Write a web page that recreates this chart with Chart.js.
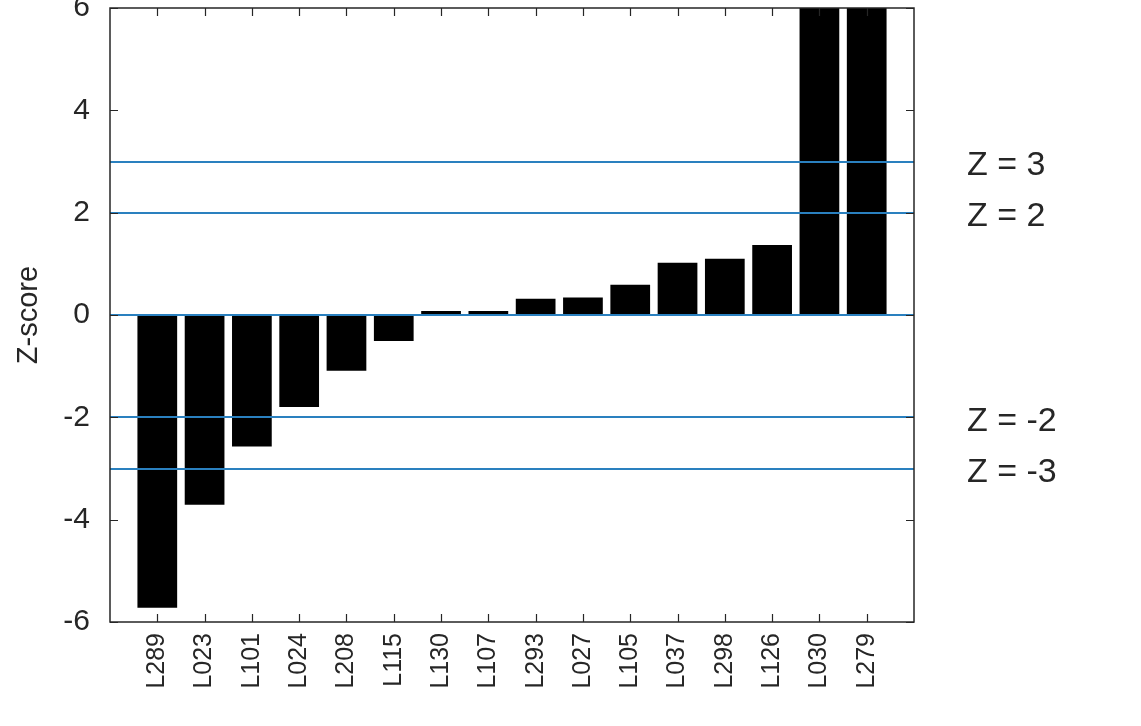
<!DOCTYPE html>
<html>
<head>
<meta charset="utf-8">
<script src="https://cdn.jsdelivr.net/npm/chart.js@4/dist/chart.umd.min.js"></script>
<style>
  html, body { margin: 0; padding: 0; background: #fff; }
  #wrap { width: 1141px; height: 726px; }
</style>
</head>
<body>
<div id="wrap"><canvas id="chart"></canvas></div>
<script>
// categories (sorted by z-score)
var categories = ['L289', 'L023', 'L101', 'L024', 'L208', 'L115', 'L130', 'L107',
                  'L293', 'L027', 'L105', 'L037', 'L298', 'L126', 'L030', 'L279'];
// z-score per category (last two run off the top of the axis)
var zScores = [-5.72, -3.71, -2.57, -1.80, -1.09, -0.51, 0.08, 0.08,
               0.32, 0.34, 0.59, 1.02, 1.10, 1.37, 7.5, 7.8];
// reference lines and their labels
var refLines = [0, 2, 3, -2, -3];
var refLabelValues = [3, 2, -2, -3];
var refLabelTexts = ['Z = 3', 'Z = 2', 'Z = -2', 'Z = -3'];
// y axis
var yMin = -6, yMax = 6, yStep = 2;

var INK = '#262626';
var LINE_BLUE = '#2a80bf';
var FONT = '"Liberation Sans", Arial, Helvetica, sans-serif';

// empty slots at both ends so the axis runs one full step past the first / last bar
var labels = [''].concat(categories).concat(['']);
var values = [null].concat(zScores).concat([null]);

/* frame, inward ticks, z lines and their labels */
var framePlugin = {
    id: 'frame',
    afterDatasetsDraw: function (chart) {
        var ctx = chart.ctx;
        var a = chart.chartArea;
        var x = chart.scales.x;
        var y = chart.scales.y;
        ctx.save();

        // z lines
        ctx.strokeStyle = LINE_BLUE;
        ctx.lineWidth = 2;
        refLines.forEach(function (v) {
            var py = Math.round(y.getPixelForValue(v));
            ctx.beginPath();
            ctx.moveTo(a.left, py);
            ctx.lineTo(a.right, py);
            ctx.stroke();
        });

        // box
        ctx.strokeStyle = INK;
        ctx.lineWidth = 1.5;
        ctx.strokeRect(a.left, a.top, a.right - a.left, a.bottom - a.top);

        // ticks
        ctx.lineWidth = 1.2;
        ctx.beginPath();
        labels.forEach(function (l, i) {
            if (!l) return;
            var px = Math.round(x.getPixelForValue(i)) + 0.5;
            ctx.moveTo(px, a.bottom);
            ctx.lineTo(px, a.bottom - 8);
            ctx.moveTo(px, a.top);
            ctx.lineTo(px, a.top + 8);
        });
        y.ticks.forEach(function (t) {
            var py = Math.round(y.getPixelForValue(t.value)) + 0.5;
            ctx.moveTo(a.left, py);
            ctx.lineTo(a.left + 8, py);
            ctx.moveTo(a.right, py);
            ctx.lineTo(a.right - 8, py);
        });
        ctx.stroke();

        // labels to the right
        ctx.fillStyle = INK;
        ctx.font = '34px ' + FONT;
        ctx.textAlign = 'left';
        ctx.textBaseline = 'middle';
        refLabelValues.forEach(function (v, i) {
            var py = y.getPixelForValue(v) + 4;
            ctx.fillText(refLabelTexts[i], a.right + 53, py);
        });

        ctx.restore();
    }
};

new Chart(document.getElementById('chart'), {
    type: 'bar',
    data: {
        labels: labels,
        datasets: [{
            label: 'Z-score',
            data: values,
            backgroundColor: '#000000',
            borderWidth: 0,
            categoryPercentage: 1.0,
            barPercentage: 0.84
        }]
    },
    options: {
        responsive: true,
        maintainAspectRatio: false,
        animation: false,
        layout: { padding: { top: 8, right: 227, bottom: 0, left: 0 } },
        plugins: {
            legend: { display: false },
            tooltip: { enabled: false }
        },
        scales: {
            x: {
                type: 'category',
                offset: false,
                grid: { display: false, drawTicks: false },
                border: { display: false },
                ticks: {
                    autoSkip: false,
                    minRotation: 90,
                    maxRotation: 90,
                    padding: 11,
                    color: INK,
                    font: { family: FONT, size: 25 },
                    callback: function (v, i) { return labels[i]; }
                },
                afterFit: function (scale) {
                    scale.height = 104;
                    scale.paddingLeft = 0;
                    scale.paddingRight = 0;
                }
            },
            y: {
                min: yMin,
                max: yMax,
                grid: { display: false, drawTicks: false },
                border: { display: false },
                ticks: {
                    stepSize: yStep,
                    padding: 20,
                    color: INK,
                    font: { family: FONT, size: 30 }
                },
                title: {
                    display: true,
                    text: 'Z-score',
                    color: INK,
                    font: { family: FONT, size: 29 },
                    padding: { top: 12, bottom: 0 }
                },
                afterFit: function (scale) {
                    scale.width = 110;
                    // let the top label hang over the edge like the original
                    scale.paddingTop = 0;
                    scale.paddingBottom = 0;
                }
            }
        }
    },
    plugins: [framePlugin]
});
</script>
</body>
</html>
